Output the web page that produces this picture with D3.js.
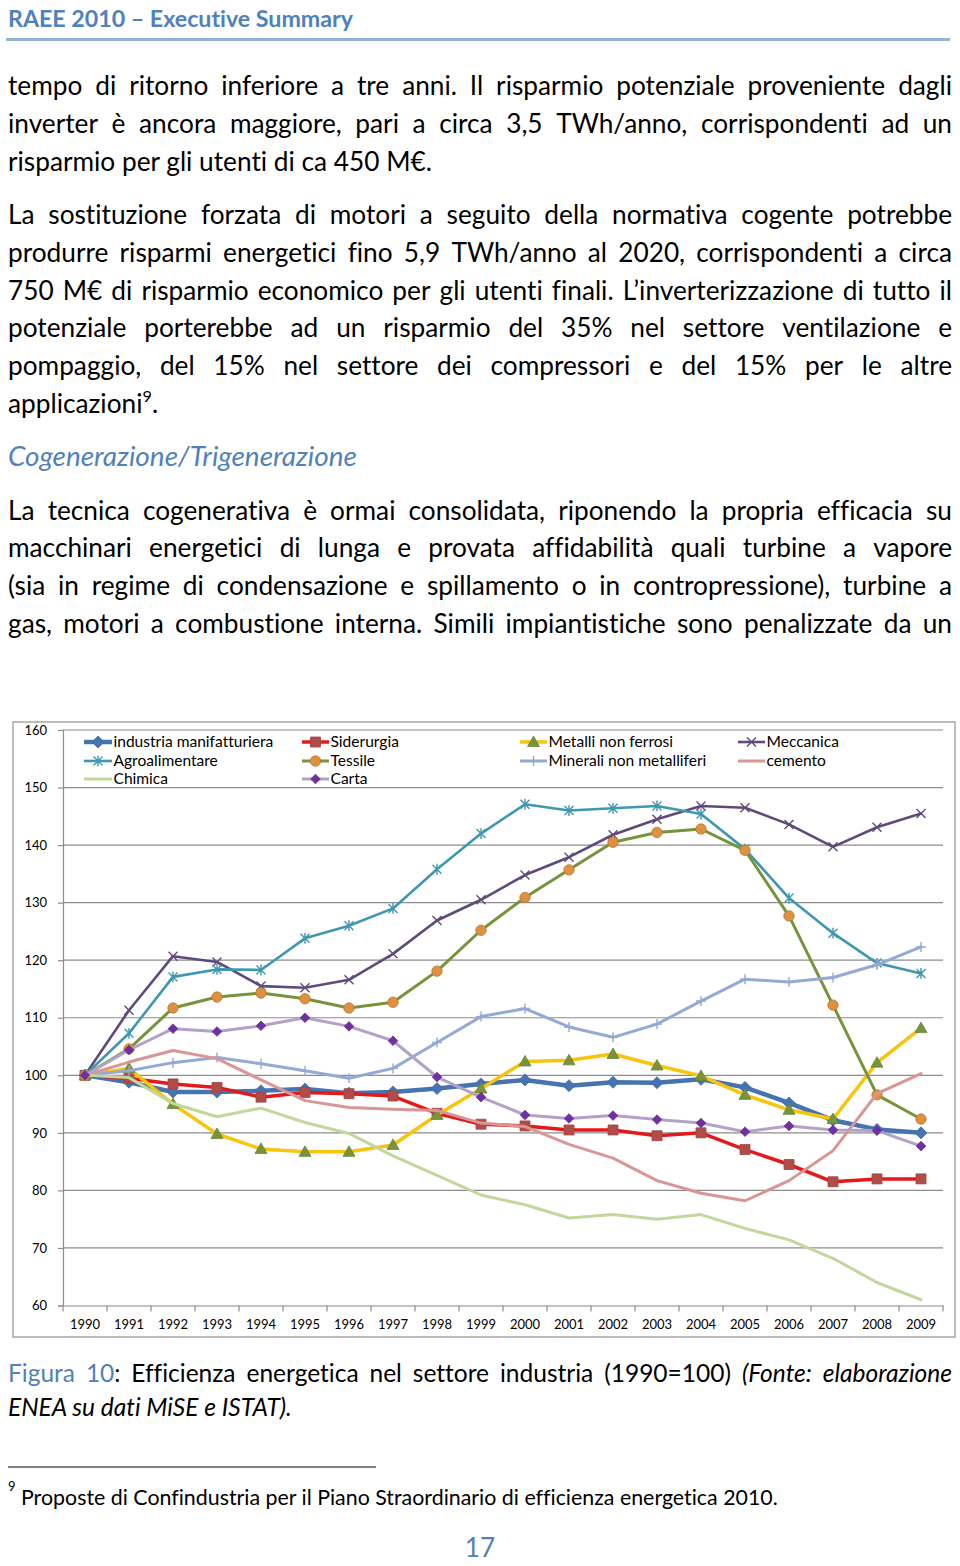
<!DOCTYPE html>
<html><head><meta charset="utf-8">
<script src="https://cdn.jsdelivr.net/npm/d3@7"></script>
<style>
html,body{margin:0;padding:0;background:#fff;}
svg{display:block;}
text{font-variant-ligatures:none;font-feature-settings:"liga" 0,"clig" 0;}
</style></head><body>
<svg id="page" width="960" height="1566"></svg>
<script>
// ---------------- DATA ----------------
const years = ["1990","1991","1992","1993","1994","1995","1996","1997","1998","1999",
               "2000","2001","2002","2003","2004","2005","2006","2007","2008","2009"];
const yTicks = [60,70,80,90,100,110,120,130,140,150,160];
const seriesNames = ["industria manifatturiera","Siderurgia","Metalli non ferrosi","Meccanica",
  "Agroalimentare","Tessile","Minerali non metalliferi","cemento","Chimica","Carta"];
const industria = [100,98.8,97.1,97.1,97.3,97.6,96.9,97.1,97.7,98.5,99.2,98.2,98.8,98.7,99.3,97.9,95.2,92.2,90.6,90.0];
const siderurgia = [100,99.5,98.5,97.9,96.2,97.0,96.8,96.4,93.4,91.5,91.2,90.5,90.5,89.5,90.0,87.1,84.5,81.5,82.0,82.0];
const metalli = [100,101.2,95.0,89.8,87.2,86.7,86.7,87.9,93.1,97.7,102.4,102.6,103.7,101.7,99.9,96.6,94.0,92.4,102.2,108.2];
const meccanica = [100,111.3,120.7,119.7,115.5,115.2,116.6,121.1,126.9,130.5,134.8,137.9,141.8,144.5,146.8,146.5,143.6,139.7,143.1,145.5];
const agro = [100,107.3,117.1,118.4,118.3,123.8,126.0,129.0,135.8,142.0,147.1,146.0,146.4,146.8,145.4,139.3,130.8,124.7,119.5,117.7];
const tessile = [100,104.6,111.7,113.6,114.3,113.3,111.7,112.7,118.1,125.2,130.9,135.7,140.5,142.2,142.8,139.1,127.7,112.2,96.6,92.4];
const minerali = [100,100.8,102.2,103.1,102.0,100.8,99.5,101.2,105.7,110.2,111.6,108.4,106.6,108.9,112.9,116.7,116.2,117.0,119.2,122.3];
const cemento = [100,102.3,104.3,102.9,99.2,95.6,94.4,94.1,93.9,91.7,91.1,88.0,85.6,81.7,79.5,78.2,81.7,86.9,96.8,100.3];
const chimica = [100,99.6,95.1,92.8,94.3,91.8,89.9,86.0,82.6,79.2,77.5,75.2,75.8,75.0,75.8,73.4,71.4,68.2,64.0,61.0];
const carta = [100,104.4,108.1,107.6,108.6,110.0,108.5,106.0,99.7,96.2,93.1,92.5,93.0,92.3,91.7,90.2,91.2,90.5,90.4,87.7];
const seriesValues = [industria,siderurgia,metalli,meccanica,agro,tessile,minerali,cemento,chimica,carta];

// styles (not data)
const styles = [
  {line:"#4674b0", w:4.5, marker:"diamond", mfill:"#4674b0", mstroke:"#3d68a3", r:6},
  {line:"#e3191b", w:3.5, marker:"square", mfill:"#b24c48", mstroke:"#a04440", r:5},
  {line:"#f8c40c", w:3.5, marker:"triangle", mfill:"#77933c", mstroke:"#6b8636", r:6},
  {line:"#604a7b", w:2.6, marker:"x", mfill:"none", mstroke:"#604a7b", r:4.5},
  {line:"#3f97b0", w:2.6, marker:"asterisk", mfill:"none", mstroke:"#3f97b0", r:4.5},
  {line:"#77933c", w:3, marker:"circle", mfill:"#e0913f", mstroke:"#b87632", r:5.2},
  {line:"#94a9d3", w:3, marker:"plus", mfill:"none", mstroke:"#94a9d3", r:5},
  {line:"#d99694", w:3, marker:"none"},
  {line:"#c3d69b", w:3, marker:"none"},
  {line:"#b3a2c7", w:3, marker:"diamond", mfill:"#7030a0", mstroke:"#6a2d98", r:4.8}
];

const svg = d3.select("#page");
const FONT = "Lato, 'Open Sans', 'DejaVu Sans', sans-serif";
const BLUE = "#4f81bd";

// ---------------- TEXT HELPERS ----------------
function fitSize(text, width, weight, italic){
  const t = svg.append("text").attr("font-family",FONT).attr("font-size",100)
    .attr("font-weight",weight||400).attr("font-style",italic?"italic":"normal").text(text);
  const w = t.node().getComputedTextLength(); t.remove();
  return 100*width/w;
}
function toWords(s){ return s.split(" ").map(w=>[{t:w}]); }
function makeText(g, segs, o){
  const t = g.append("text").attr("y",o.y).attr("font-family",FONT).attr("font-size",o.size)
    .attr("font-weight",o.weight||400).attr("fill",o.fill||"#000")
    .attr("font-style",o.italic?"italic":"normal");
  let up=false;
  segs.forEach(s=>{
    const ts=t.append("tspan").text(s.t);
    if(s.fill) ts.attr("fill",s.fill);
    if(s.italic) ts.attr("font-style","italic");
    if(s.sup){ ts.attr("font-size",o.size*0.62).attr("dy",-o.size*0.42); up=true; }
    else if(up){ ts.attr("dy",o.size*0.42); up=false; }
  });
  return t;
}
function drawLine(words, o){
  const g = svg.append("g");
  if(!o.justify){
    const segs=[]; words.forEach((w,i)=>{ if(i) segs.push({t:" "}); w.forEach(s=>segs.push(s)); });
    makeText(g, segs, o).attr("x",o.x0).attr("text-anchor",o.anchor||"start");
    return;
  }
  const nodes = words.map(w=>makeText(g,w,o));
  const widths = nodes.map(n=>n.node().getComputedTextLength());
  const sum = d3.sum(widths);
  const gap = (o.x1-o.x0-sum)/(words.length-1);
  let x=o.x0;
  nodes.forEach((n,i)=>{ n.attr("x",x); x+=widths[i]+gap; });
}

// ---------------- PAGE TEXT ----------------
const hSize = fitSize("RAEE 2010 – Executive Summary",345,700,false);
drawLine(toWords("RAEE 2010 – Executive Summary"),{x0:8,y:27,size:hSize,weight:700,fill:BLUE});
svg.append("line").attr("x1",6).attr("x2",950).attr("y1",39.5).attr("y2",39.5)
  .attr("stroke","#95b3d7").attr("stroke-width",3);

const bs = fitSize("risparmio per gli utenti di ca 450 M€.",424,400,false);
const L=8, R=952;
const body = [
  ["tempo di ritorno inferiore a tre anni. Il risparmio potenziale proveniente dagli",95,true],
  ["inverter è ancora maggiore, pari a circa 3,5 TWh/anno, corrispondenti ad un",133,true],
  ["risparmio per gli utenti di ca 450 M€.",171,false],
  ["La sostituzione forzata di motori a seguito della normativa cogente potrebbe",224,true],
  ["produrre risparmi energetici fino 5,9 TWh/anno al 2020, corrispondenti a circa",262,true],
  ["750 M€ di risparmio economico per gli utenti finali. L’inverterizzazione di tutto il",300,true],
  ["potenziale porterebbe ad un risparmio del 35% nel settore ventilazione e",337,true],
  ["pompaggio, del 15% nel settore dei compressori e del 15% per le altre",375,true],
  ["La tecnica cogenerativa è ormai consolidata, riponendo la propria efficacia su",520,true],
  ["macchinari energetici di lunga e provata affidabilità quali turbine a vapore",557,true],
  ["(sia in regime di condensazione e spillamento o in contropressione), turbine a",595,true],
  ["gas, motori a combustione interna. Simili impiantistiche sono penalizzate da un",633,true]
];
body.forEach(b=>drawLine(toWords(b[0]),{x0:L,x1:R,y:b[1],size:bs,justify:b[2]}));
drawLine([[{t:"applicazioni"},{t:"9",sup:true},{t:"."}]],{x0:L,y:413,size:bs});
const hs2 = fitSize("Cogenerazione/Trigenerazione",349,400,true);
drawLine(toWords("Cogenerazione/Trigenerazione"),{x0:L,y:466,size:hs2,italic:true,fill:BLUE});

// caption
const cs = fitSize("ENEA su dati MiSE e ISTAT).",284,400,true);
drawLine([[{t:"Figura",fill:BLUE}],[{t:"10",fill:BLUE},{t:":"}],[{t:"Efficienza"}],[{t:"energetica"}],
  [{t:"nel"}],[{t:"settore"}],[{t:"industria"}],[{t:"(1990=100)"}],
  [{t:"(Fonte:",italic:true}],[{t:"elaborazione",italic:true}]],{x0:L,x1:R,y:1382,size:cs,justify:true});
drawLine(toWords("ENEA su dati MiSE e ISTAT)."),{x0:L,y:1416,size:cs,italic:true});

svg.append("line").attr("x1",8).attr("x2",376).attr("y1",1467).attr("y2",1467)
  .attr("stroke","#000").attr("stroke-width",1.2);
const fs = fitSize("Proposte di Confindustria per il Piano Straordinario di efficienza energetica 2010.",757,400,false);
svg.append("text").attr("x",8).attr("y",1491).attr("font-family",FONT).attr("font-size",13).text("9");
drawLine(toWords("Proposte di Confindustria per il Piano Straordinario di efficienza energetica 2010."),{x0:21,y:1505,size:fs});
drawLine(toWords("17"),{x0:480,y:1557,size:bs,fill:BLUE,anchor:"middle"});

// ---------------- CHART ----------------
svg.append("rect").attr("x",13).attr("y",722).attr("width",942).attr("height",615)
  .attr("fill","none").attr("stroke","#a6a6a6").attr("stroke-width",1.5);

const x = d3.scaleBand().domain(years).range([63,943]);
const y = d3.scaleLinear().domain([60,160]).range([1305.5,730]);
const cx = d => x(d)+x.bandwidth()/2;

const chart = svg.append("g");
chart.append("g").selectAll("line").data(yTicks.filter(v=>v>60)).join("line")
  .attr("x1",63).attr("x2",943).attr("y1",d=>y(d)).attr("y2",d=>y(d))
  .attr("stroke","#8c8c8c").attr("stroke-width",1.2);

const yAxis = chart.append("g").attr("transform","translate(63,0)")
  .call(d3.axisLeft(y).tickValues(yTicks).tickSize(5).tickPadding(4).tickFormat(d3.format("d")));
yAxis.select(".domain").attr("stroke","#8c8c8c").attr("stroke-width",1.2);
yAxis.selectAll(".tick line").attr("stroke","#8c8c8c").attr("stroke-width",1.2);
yAxis.selectAll("text").attr("font-family",FONT).attr("font-size",13).attr("fill","#000").attr("x",-16);

const xAxis = chart.append("g").attr("transform","translate(0,1305.5)")
  .call(d3.axisBottom(x).tickSize(0).tickPadding(14));
xAxis.select(".domain").attr("stroke","#8c8c8c").attr("stroke-width",1.2);
xAxis.selectAll("text").attr("font-family",FONT).attr("font-size",13).attr("fill","#000");
const bounds = years.map(d=>x(d)).concat([x(years[years.length-1])+x.bandwidth()]);
xAxis.append("g").selectAll("line").data(bounds).join("line")
  .attr("x1",d=>d).attr("x2",d=>d).attr("y1",0).attr("y2",6)
  .attr("stroke","#8c8c8c").attr("stroke-width",1.2);

function markerPath(type, r){
  switch(type){
    case "diamond": return `M0,${-r}L${r},0L0,${r}L${-r},0Z`;
    case "square": return `M${-r},${-r}H${r}V${r}H${-r}Z`;
    case "triangle": return `M0,${-r}L${r},${r*0.75}L${-r},${r*0.75}Z`;
    case "circle": return d3.arc()({innerRadius:0,outerRadius:r,startAngle:0,endAngle:2*Math.PI});
    case "x": return `M${-r},${-r}L${r},${r}M${-r},${r}L${r},${-r}`;
    case "asterisk": return `M${-r},${-r}L${r},${r}M${-r},${r}L${r},${-r}M0,${-r*1.2}L0,${r*1.2}`;
    case "plus": return `M${-r},0L${r},0M0,${-r}L0,${r}`;
  }
  return "";
}
const lineGen = d3.line().x((d,i)=>cx(years[i])).y(d=>y(d));

seriesValues.forEach((vals,k)=>{
  const st = styles[k];
  const g = chart.append("g");
  g.append("path").attr("d",lineGen(vals)).attr("fill","none").attr("stroke",st.line)
    .attr("stroke-width",st.w).attr("stroke-linejoin","round").attr("stroke-linecap","round");
  if(st.marker!=="none"){
    const open = ["x","asterisk","plus"].includes(st.marker);
    g.selectAll("path.m").data(vals).join("path").attr("class","m")
      .attr("transform",(d,i)=>`translate(${cx(years[i])},${y(d)})`)
      .attr("d",markerPath(st.marker,st.r))
      .attr("fill",open?"none":st.mfill).attr("stroke",st.mstroke)
      .attr("stroke-width",open?1.4:0.8);
  }
});

// legend
const legSize = fitSize("industria manifatturiera",160,400,false);
const legCols = [[84,112],[302,329],[520,547],[738,765]];
const legRows = [742,761,779];
seriesNames.forEach((name,k)=>{
  const col = k%4, row = Math.floor(k/4);
  const [a,b] = legCols[col]; const yy = legRows[row];
  const st = styles[k];
  const g = svg.append("g");
  g.append("line").attr("x1",a).attr("x2",b).attr("y1",yy).attr("y2",yy)
    .attr("stroke",st.line).attr("stroke-width",st.w);
  if(st.marker!=="none"){
    const open = ["x","asterisk","plus"].includes(st.marker);
    g.append("path").attr("transform",`translate(${(a+b)/2},${yy})`)
      .attr("d",markerPath(st.marker,st.r)).attr("fill",open?"none":st.mfill)
      .attr("stroke",st.mstroke).attr("stroke-width",open?1.4:0.8);
  }
  g.append("text").attr("x",b+1.5).attr("y",yy+5).attr("font-family",FONT)
    .attr("font-size",legSize).attr("fill","#000").text(name);
});
</script>
</body></html>
